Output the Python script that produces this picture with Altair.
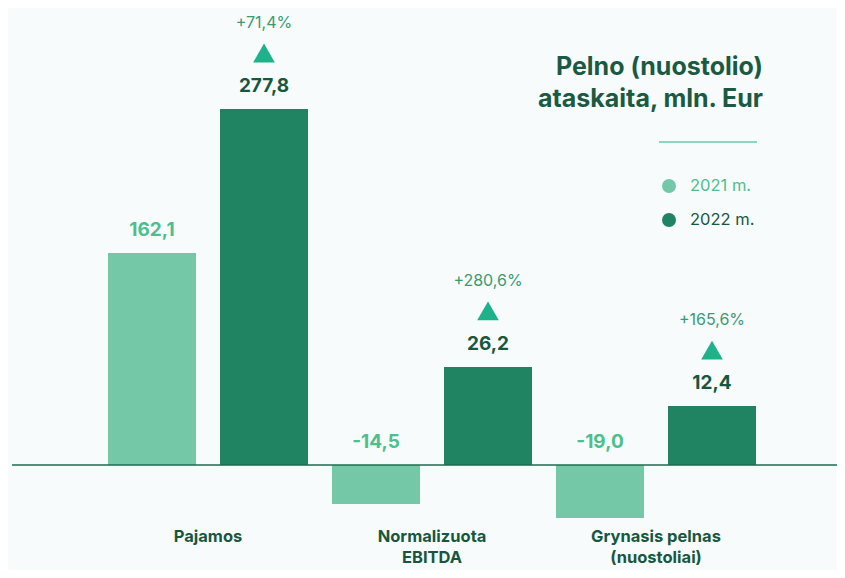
import altair as alt
import pandas as pd

# ---- data ----
categories = ["Pajamos", "Normalizuota\nEBITDA", "Grynasis pelnas\n(nuostoliai)"]
years = ["2021 m.", "2022 m."]
values_2021 = [162.1, -14.5, -19.0]
values_2022 = [277.8, 26.2, 12.4]
# bar lengths as drawn in the reference (the picture is not to scale)
drawn_2021 = [165.4, -30.4, -41.4]
drawn_2022 = [277.8, 76.5, 46.0]
changes_2022 = ["+71,4%", "+280,6%", "+165,6%"]

LIGHT = "#74c8a7"
DARK = "#208462"
TXT_LIGHT = "#4cbf8c"
TXT_DARK = "#17573f"
ACCENT = "#1eb28a"
BG = "#f7fbfc"
FONT = "Inter"

rows = []
for i, c in enumerate(categories):
    for y, v, d in ((years[0], values_2021[i], drawn_2021[i]), (years[1], values_2022[i], drawn_2022[i])):
        rows.append({
            "cat": c, "year": y, "value": v, "drawn": d,
            "top": max(d, 0.0),
            "label": f"{v:.1f}".replace(".", ","),
            "change": changes_2022[i] if y == years[1] else "",
        })
df = pd.DataFrame(rows)
cats_df = pd.DataFrame({"cat": categories})

H = 562
x_enc = alt.X("cat:N", sort=categories, axis=None,
              scale=alt.Scale(range=[100, 748], paddingInner=24 / 224, paddingOuter=0))
xo_enc = alt.XOffset("year:N", sort=years,
                     scale=alt.Scale(paddingInner=24 / 112, paddingOuter=0))
# baseline at chart y 457, 1.2815 px per unit
y_scale = alt.Scale(domain=[-(H - 457) / 1.2815, 457 / 1.2815], nice=False, zero=False)

base = alt.Chart(df)

bars = base.mark_bar(cornerRadius=0).encode(
    x=x_enc, xOffset=xo_enc,
    y=alt.Y("drawn:Q", axis=None, scale=y_scale),
    y2=alt.datum(0),
    color=alt.Color("year:N", sort=years, legend=None,
                    scale=alt.Scale(domain=years, range=[LIGHT, DARK])),
)

value_labels = base.mark_text(font=FONT, fontSize=19, fontWeight="bold",
                              baseline="middle", dy=-23).encode(
    x=x_enc, xOffset=xo_enc,
    y=alt.Y("top:Q", scale=y_scale, axis=None),
    text="label:N",
    color=alt.condition(alt.datum.year == years[0], alt.value(TXT_LIGHT), alt.value(TXT_DARK)),
)

d22 = base.transform_filter(alt.datum.year == years[1])
triangles = d22.mark_point(shape="triangle-up", filled=True, size=470,
                           color=ACCENT, opacity=1, yOffset=-56).encode(
    x=x_enc, xOffset=xo_enc,
    y=alt.Y("top:Q", scale=y_scale, axis=None),
)
pct = d22.mark_text(font=FONT, fontSize=16, color="#3a9a73",
                    baseline="middle", dy=-86).encode(
    x=x_enc, xOffset=xo_enc,
    y=alt.Y("top:Q", scale=y_scale, axis=None),
    text="change:N",
)

baseline = alt.Chart(pd.DataFrame({"v": [0]})).mark_rule(
    color="#1d6b4f", strokeWidth=1.5).encode(
    y=alt.Y("v:Q", scale=y_scale, axis=None),
    x=alt.value(4), x2=alt.value(829),
)

cat_labels = alt.Chart(cats_df).mark_text(
    font=FONT, fontSize=16.5, fontWeight="bold", color=TXT_DARK,
    baseline="top", lineBreak="\n", lineHeight=21).encode(
    x=x_enc, y=alt.value(521), text="cat:N",
)

title_df = pd.DataFrame({"t": ["Pelno (nuostolio)", "ataskaita, mln. Eur"], "i": [0, 1]})
title1 = alt.Chart(title_df).transform_filter(alt.datum.i == 0).mark_text(
    font=FONT, fontSize=25, fontWeight="bold", color="#1b5a42", align="right",
    baseline="middle").encode(x=alt.value(755), y=alt.value(59), text="t:N")
title2 = alt.Chart(title_df).transform_filter(alt.datum.i == 1).mark_text(
    font=FONT, fontSize=25, fontWeight="bold", color="#1b5a42", align="right",
    baseline="middle").encode(x=alt.value(755), y=alt.value(91), text="t:N")

underline = alt.Chart(pd.DataFrame({"v": [0]})).mark_rule(
    color=ACCENT, strokeWidth=1.2).encode(
    x=alt.value(651), x2=alt.value(749), y=alt.value(134))

leg_df = pd.DataFrame({"year": years})
leg_items = []
for k, (yr, fill, tcol, ypos) in enumerate(((years[0], LIGHT, TXT_LIGHT, 178),
                                             (years[1], DARK, TXT_DARK, 212))):
    src = alt.Chart(leg_df).transform_filter(alt.datum.year == yr)
    leg_items.append(src.mark_point(shape="circle", filled=True, size=196,
                                    color=fill, opacity=1).encode(
        x=alt.value(661), y=alt.value(ypos)))
    leg_items.append(src.mark_text(font=FONT, fontSize=16.5, color=tcol, align="left",
                                   baseline="middle").encode(
        x=alt.value(682), y=alt.value(ypos), text="year:N"))

chart = alt.layer(
    bars, baseline, value_labels, triangles, pct, cat_labels,
    title1, title2, underline, *leg_items,
).properties(
    width=829, height=H,
    autosize=alt.AutoSizeParams(type="none"),
    padding=0,
).configure(background=BG).configure_view(stroke=None)

chart.save("out.html", embed_options={"renderer": "svg", "actions": False})
